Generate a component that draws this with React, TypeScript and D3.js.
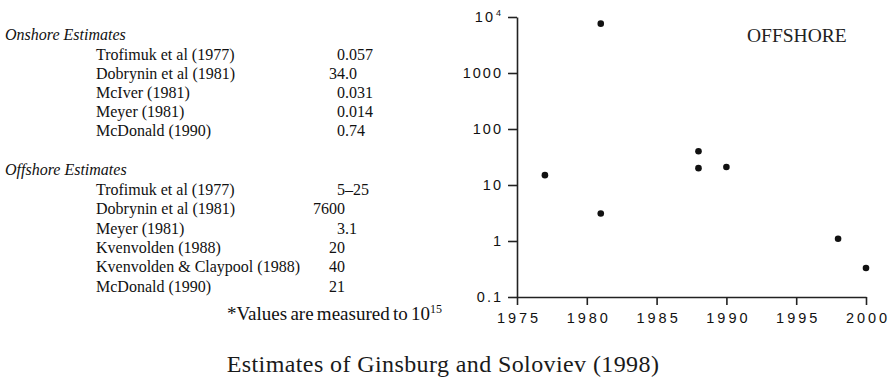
import { useEffect, useRef } from "react";
import * as d3 from "d3";

// table on the left
const onshoreSources = ["Trofimuk et al (1977)", "Dobrynin et al (1981)", "McIver (1981)", "Meyer (1981)", "McDonald (1990)"];
const onshoreValues = ["0.057", "34.0", "0.031", "0.014", "0.74"];
const offshoreSources = ["Trofimuk et al (1977)", "Dobrynin et al (1981)", "Meyer (1981)", "Kvenvolden (1988)", "Kvenvolden & Claypool (1988)", "McDonald (1990)"];
const offshoreValues = ["5–25", "7600", "3.1", "20", "40", "21"];

// offshore scatter
const pointYears = [1977, 1981, 1981, 1988, 1988, 1990, 1998, 2000];
const pointValues = [15, 7600, 3.1, 40, 20, 21, 1.1, 0.33];

const yTicks = [0.1, 1, 10, 100, 1000, 10000];
const xTicks = [1975, 1980, 1985, 1990, 1995, 2000];

const W = 890;
const H = 386;

export default function App() {
  const svgRef = useRef<SVGSVGElement>(null);

  useEffect(() => {
    const svg = d3.select(svgRef.current);
    svg.selectAll("*").remove();

    const serif = "'Liberation Serif', 'Times New Roman', serif";
    const sans = "'Liberation Sans', Arial, sans-serif";

    // ---- table ----
    const table = svg.append("g").attr("font-family", serif).attr("font-size", 16).attr("fill", "#111");
    const nameX = 96;
    const decX = 345;

    const drawBlock = (title: string, titleY: number, names: string[], vals: string[], step: number) => {
      table.append("text").attr("x", 5).attr("y", titleY).attr("font-style", "italic").text(title);
      names.forEach((n, i) => {
        const yy = titleY + 20 + i * step;
        table.append("text").attr("x", nameX).attr("y", yy).text(n);
        const m = vals[i].match(/^(\d+)(.*)$/);
        const head = m ? m[1] : vals[i];
        const tail = m ? m[2] : "";
        table.append("text").attr("x", decX).attr("y", yy).attr("text-anchor", "end").text(head);
        if (tail) table.append("text").attr("x", decX).attr("y", yy).text(tail);
      });
    };
    drawBlock("Onshore Estimates", 40, onshoreSources, onshoreValues, 19);
    drawBlock("Offshore Estimates", 175, offshoreSources, offshoreValues, 19.3);

    const note = svg.append("text")
      .attr("x", 227).attr("y", 320)
      .attr("font-family", serif).attr("font-size", 19)
      .attr("word-spacing", -1.5)
      .attr("fill", "#111")
      .text("*Values are measured to 10");
    note.append("tspan").attr("dy", -7).attr("font-size", 12).text("15");

    svg.append("text")
      .attr("x", 443).attr("y", 372)
      .attr("text-anchor", "middle")
      .attr("font-family", serif).attr("font-size", 24)
      .attr("letter-spacing", 0.4)
      .attr("fill", "#1a1a1a")
      .text("Estimates of Ginsburg and Soloviev (1998)");

    // ---- scatter ----
    const margin = { top: 17, right: 24, bottom: 89, left: 517 };
    const width = W - margin.left - margin.right;
    const height = H - margin.top - margin.bottom;

    const g = svg.append("g").attr("transform", "translate(" + margin.left + "," + margin.top + ")");

    const x = d3.scaleLinear().domain([1975, 2000]).range([0, width]);
    const y = d3.scaleLog().domain([0.1, 10000]).range([height, 0]);

    const yAxis = g.append("g")
      .call(d3.axisLeft(y).tickValues(yTicks).tickSize(9).tickSizeOuter(0).tickPadding(7)
        .tickFormat((d) => (+d === 10000 ? "10" : String(+d))));
    yAxis.selectAll("text")
      .attr("font-family", sans).attr("font-size", 14.5)
      .attr("letter-spacing", 2).attr("fill", "#111")
      .attr("dx", 2);
    yAxis.selectAll<SVGTextElement, number>("text")
      .filter((d) => +d === 10000)
      .append("tspan").attr("dy", -6).attr("font-size", 9).attr("dx", 1).text("4");

    const xAxis = g.append("g")
      .attr("transform", "translate(0," + height + ")")
      .call(d3.axisBottom(x).tickValues(xTicks).tickSize(8).tickSizeOuter(0).tickPadding(8)
        .tickFormat((d) => String(d)));
    xAxis.selectAll("text")
      .attr("font-family", sans).attr("font-size", 14.5)
      .attr("letter-spacing", 3).attr("fill", "#111")
      .attr("dx", 1.5);

    svg.selectAll(".domain, .tick line").attr("stroke", "#222").attr("stroke-width", 1.6);

    g.selectAll("circle")
      .data(pointYears)
      .join("circle")
      .attr("cx", (d) => x(d))
      .attr("cy", (_d, i) => y(pointValues[i]))
      .attr("r", 3.3)
      .attr("fill", "#111");

    g.append("text")
      .attr("x", 230).attr("y", 25)
      .attr("font-family", serif).attr("font-size", 19.5)
      .attr("fill", "#222")
      .text("OFFSHORE");
  }, []);

  return (
    <svg ref={svgRef} width={W} height={H} style={{ position: "absolute", left: 0, top: 0, background: "#fff" }} />
  );
}
